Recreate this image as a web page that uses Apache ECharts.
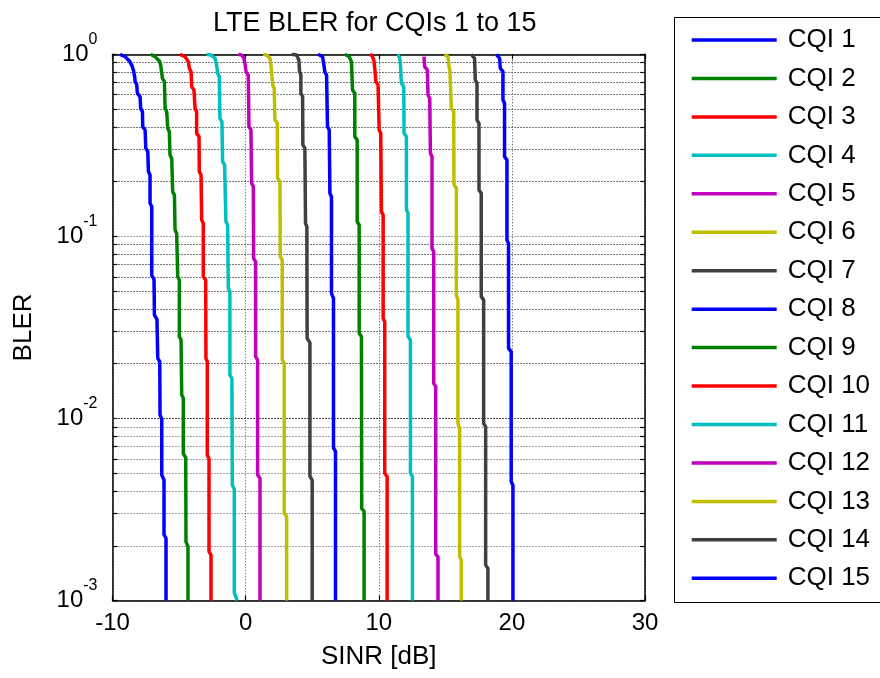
<!DOCTYPE html>
<html>
<head>
<meta charset="utf-8">
<title>LTE BLER for CQIs 1 to 15</title>
<script src="https://cdn.jsdelivr.net/npm/echarts@6/dist/echarts.min.js"></script>
<style>
  html, body { margin: 0; padding: 0; background: #fff; }
  #chart { width: 880px; height: 678px; }
</style>
</head>
<body>
<div id="chart"></div>
<script>
// BLER vs SINR curves, one [SINR dB, BLER] list per CQI
const cqi1 = [[-9.43,1],[-9.05,0.97],[-8.73,0.92],[-8.55,0.87],[-8.43,0.82],[-8.33,0.75],[-8.3,0.71],[-8.18,0.68],[-8.13,0.61],[-7.93,0.585],[-7.88,0.505],[-7.75,0.484],[-7.73,0.40],[-7.55,0.384],[-7.5,0.305],[-7.35,0.292],[-7.3,0.227],[-7.18,0.2175],[-7.18,0.152],[-7.05,0.146],[-7.05,0.061],[-6.88,0.058],[-6.85,0.037],[-6.66,0.035],[-6.6,0.0214],[-6.45,0.0205],[-6.43,0.0105],[-6.3,0.0099],[-6.3,0.0049],[-6.13,0.0046],[-6.13,0.0023],[-5.98,0.0022],[-5.98,0.001]];
const cqi2 = [[-7.13,1],[-6.8,0.97],[-6.48,0.92],[-6.38,0.874],[-6.25,0.738],[-6.1,0.708],[-6.05,0.505],[-5.93,0.484],[-5.85,0.392],[-5.73,0.376],[-5.68,0.28],[-5.55,0.268],[-5.48,0.176],[-5.35,0.169],[-5.3,0.1085],[-5.18,0.104],[-5.1,0.060],[-4.98,0.0576],[-4.98,0.0282],[-4.85,0.027],[-4.8,0.0135],[-4.68,0.0129],[-4.68,0.0064],[-4.5,0.0061],[-4.48,0.0021],[-4.33,0.00198],[-4.33,0.001]];
const cqi3 = [[-4.93,1],[-4.55,0.97],[-4.3,0.911],[-4.23,0.838],[-4.1,0.803],[-4.05,0.664],[-3.88,0.637],[-3.8,0.505],[-3.68,0.484],[-3.68,0.368],[-3.5,0.353],[-3.48,0.227],[-3.35,0.2175],[-3.3,0.123],[-3.18,0.118],[-3.18,0.060],[-3.0,0.0576],[-2.98,0.0214],[-2.88,0.0205],[-2.88,0.0063],[-2.75,0.006],[-2.75,0.00186],[-2.6,0.00178],[-2.6,0.001]];
const cqi4 = [[-2.93,1],[-2.55,0.987],[-2.3,0.951],[-2.18,0.874],[-2.1,0.786],[-1.98,0.754],[-1.93,0.445],[-1.78,0.427],[-1.73,0.257],[-1.58,0.247],[-1.48,0.1205],[-1.35,0.1155],[-1.3,0.052],[-1.18,0.0497],[-1.18,0.0173],[-1.03,0.0166],[-1.0,0.0043],[-0.85,0.0041],[-0.85,0.0011],[-0.68,0.00103],[-0.68,0.001]];
const cqi5 = [[-0.55,1],[-0.3,0.99],[-0.13,0.951],[-0.05,0.892],[0.03,0.803],[0.2,0.77],[0.25,0.401],[0.4,0.384],[0.45,0.196],[0.58,0.188],[0.6,0.0758],[0.75,0.0727],[0.75,0.0219],[0.9,0.021],[0.9,0.0049],[1.08,0.0047],[1.08,0.001]];
const cqi6 = [[1.33,1],[1.58,0.99],[1.83,0.95],[1.9,0.874],[1.95,0.8],[2.03,0.679],[2.15,0.65],[2.2,0.436],[2.38,0.418],[2.4,0.2085],[2.58,0.2],[2.6,0.0774],[2.75,0.0742],[2.75,0.021],[2.9,0.0201],[2.9,0.003],[3.08,0.0029],[3.08,0.001]];
const cqi7 = [[3.45,1],[3.83,0.99],[4.0,0.931],[4.05,0.803],[4.15,0.77],[4.15,0.611],[4.28,0.586],[4.3,0.318],[4.45,0.305],[4.5,0.118],[4.6,0.113],[4.62,0.0276],[4.83,0.0261],[4.83,0.0048],[5.0,0.0046],[5.0,0.001]];
const cqi8 = [[5.45,1],[5.78,0.97],[5.88,0.874],[5.95,0.8],[6.08,0.77],[6.15,0.401],[6.28,0.384],[6.33,0.1725],[6.45,0.1653],[6.45,0.0487],[6.6,0.0457],[6.6,0.0069],[6.75,0.0066],[6.75,0.001]];
const cqi9 = [[7.45,1],[7.78,0.97],[7.95,0.911],[8.03,0.637],[8.2,0.611],[8.2,0.353],[8.38,0.339],[8.38,0.1205],[8.53,0.1155],[8.53,0.0294],[8.7,0.0282],[8.72,0.0032],[8.9,0.0031],[8.9,0.001]];
const cqi10 = [[9.33,1],[9.5,0.98],[9.63,0.931],[9.73,0.8],[9.78,0.708],[9.95,0.679],[10.03,0.384],[10.15,0.368],[10.2,0.137],[10.33,0.131],[10.33,0.0355],[10.45,0.034],[10.45,0.005],[10.63,0.0048],[10.63,0.001]];
const cqi11 = [[11.45,1],[11.58,0.951],[11.63,0.874],[11.7,0.693],[11.88,0.664],[11.9,0.368],[12.08,0.353],[12.08,0.14],[12.2,0.134],[12.2,0.0282],[12.38,0.027],[12.38,0.005],[12.53,0.0048],[12.53,0.001]];
const cqi12 = [[13.4,0.97],[13.45,0.856],[13.65,0.82],[13.7,0.598],[13.83,0.573],[13.88,0.286],[14.0,0.274],[14.0,0.086],[14.13,0.0825],[14.13,0.0156],[14.28,0.015],[14.28,0.0018],[14.45,0.00174],[14.45,0.001]];
const cqi13 = [[14.95,1],[15.2,0.97],[15.28,0.856],[15.35,0.81],[15.45,0.505],[15.63,0.484],[15.65,0.192],[15.83,0.184],[15.83,0.0477],[15.95,0.0448],[15.95,0.0094],[16.08,0.0088],[16.08,0.00174],[16.2,0.00167],[16.2,0.001]];
const cqi14 = [[16.95,1],[17.2,0.951],[17.25,0.723],[17.38,0.693],[17.38,0.436],[17.53,0.418],[17.53,0.18],[17.7,0.1726],[17.7,0.0467],[17.88,0.0448],[17.88,0.0094],[18.03,0.009],[18.03,0.00157],[18.2,0.0015],[18.2,0.001]];
const cqi15 = [[18.83,1],[19.08,0.951],[19.13,0.838],[19.33,0.803],[19.33,0.561],[19.45,0.538],[19.45,0.274],[19.63,0.263],[19.63,0.0955],[19.75,0.0917],[19.75,0.0243],[19.95,0.0233],[19.95,0.0045],[20.08,0.0043],[20.08,0.001]];

const curves = [cqi1, cqi2, cqi3, cqi4, cqi5, cqi6, cqi7, cqi8, cqi9, cqi10, cqi11, cqi12, cqi13, cqi14, cqi15];
const curveNames = ['CQI 1', 'CQI 2', 'CQI 3', 'CQI 4', 'CQI 5', 'CQI 6', 'CQI 7', 'CQI 8',
                    'CQI 9', 'CQI 10', 'CQI 11', 'CQI 12', 'CQI 13', 'CQI 14', 'CQI 15'];

// axis ticks
const sinrTicks = [-10, 0, 10, 20, 30];
const blerTicks = [0.001, 0.002, 0.003, 0.004, 0.005, 0.006, 0.007, 0.008, 0.009,
                   0.01, 0.02, 0.03, 0.04, 0.05, 0.06, 0.07, 0.08, 0.09,
                   0.1, 0.2, 0.3, 0.4, 0.5, 0.6, 0.7, 0.8, 0.9, 1];
const blerMinorGrid = [0.002, 0.003, 0.004, 0.005, 0.006, 0.007, 0.008, 0.009,
                       0.02, 0.03, 0.04, 0.05, 0.06, 0.07, 0.08, 0.09,
                       0.2, 0.3, 0.4, 0.5, 0.6, 0.7, 0.8, 0.9];

// MATLAB-style colour cycle
const palette = ['#0000ff', '#008000', '#ff0000', '#00bfbf', '#bf00bf', '#bfbf00', '#404040'];

const FONT = "'Liberation Sans', Arial, sans-serif";
const gridLine = { color: '#4a4a4a', width: 1, type: [1, 2] };
const frameLine = { color: '#000', width: 1.5 };
const tickStyle = { show: true, inside: true, length: 5, lineStyle: { color: '#000', width: 1.2 } };

const chart = echarts.init(document.getElementById('chart'), null, { renderer: 'canvas' });

const series = curves.map((pts, i) => ({
  name: curveNames[i],
  type: 'line',
  data: pts,
  xAxisIndex: 0,
  yAxisIndex: 0,
  showSymbol: false,
  symbol: 'none',
  z: 3,
  color: palette[i % palette.length],
  lineStyle: { width: 3.5, color: palette[i % palette.length] },
  emphasis: { disabled: true },
  // minor log grid lines (2..9 within each decade)
  markLine: i === 0 ? {
    silent: true,
    symbol: 'none',
    z: 1,
    label: { show: false },
    lineStyle: gridLine,
    emphasis: { disabled: true },
    data: blerMinorGrid.map(v => ({ yAxis: v }))
  } : undefined
}));

chart.setOption({
  animation: false,
  backgroundColor: '#fff',
  textStyle: { fontFamily: FONT },
  title: {
    text: 'LTE BLER for CQIs 1 to 15',
    left: 208,
    top: 5,
    textStyle: { fontFamily: FONT, fontSize: 27, fontWeight: 'normal', color: '#000' }
  },
  grid: { left: 112.5, top: 54.3, width: 532.5, height: 546.3, containLabel: false },
  // legend frame runs past the right edge of the page
  graphic: [{
    type: 'rect',
    left: 674, top: 17,
    shape: { width: 260, height: 585 },
    style: { fill: '#fff', stroke: '#000', lineWidth: 1 },
    z: -1
  }],
  legend: {
    orient: 'vertical',
    left: 674,
    top: 17,
    padding: [10, 0, 11, 17.7],
    itemGap: 12.45,
    itemWidth: 85,
    itemHeight: 3.5,
    icon: 'rect',
    selectedMode: false,
    data: curveNames,
    textStyle: { fontFamily: FONT, fontSize: 26, lineHeight: 26, color: '#000', padding: [0, 0, 0, 6] }
  },
  xAxis: [{
    type: 'value',
    position: 'bottom',
    min: -10, max: 30, interval: 10,
    name: 'SINR [dB]',
    nameLocation: 'middle',
    nameGap: 43,
    nameTextStyle: { fontFamily: FONT, fontSize: 26, color: '#000' },
    axisLine: { show: true, onZero: false, lineStyle: frameLine },
    axisTick: tickStyle,
    axisLabel: { fontFamily: FONT, fontSize: 24, color: '#000', margin: 11,
                 formatter: v => sinrTicks.includes(v) ? String(v) : '' },
    splitLine: { show: true, lineStyle: gridLine }
  }, {
    type: 'value',
    position: 'top',
    min: -10, max: 30, interval: 10,
    axisLine: { show: true, onZero: false, lineStyle: frameLine },
    axisTick: tickStyle,
    axisLabel: { show: false },
    splitLine: { show: false }
  }],
  yAxis: [{
    type: 'log',
    logBase: 10,
    position: 'left',
    min: 0.001, max: 1,
    name: 'BLER',
    nameLocation: 'middle',
    nameGap: 76,
    nameRotate: 90,
    nameTextStyle: { fontFamily: FONT, fontSize: 26, color: '#000' },
    axisLine: { show: true, onZero: false, lineStyle: frameLine },
    axisTick: Object.assign({}, tickStyle, { customValues: blerTicks }),
    axisLabel: {
      margin: 15,
      formatter: v => '{b|10}{s|' + Math.round(Math.log10(v)) + '}',
      rich: {
        b: { fontFamily: FONT, fontSize: 24, lineHeight: 46, color: '#000' },
        s: { fontFamily: FONT, fontSize: 16, lineHeight: 16, verticalAlign: 'top', color: '#000' }
      }
    },
    splitLine: { show: true, lineStyle: gridLine }
  }, {
    type: 'log',
    logBase: 10,
    position: 'right',
    min: 0.001, max: 1,
    axisLine: { show: true, onZero: false, lineStyle: frameLine },
    axisTick: Object.assign({}, tickStyle, { customValues: blerTicks }),
    axisLabel: { show: false },
    splitLine: { show: false }
  }],
  series: series
});
</script>
</body>
</html>
